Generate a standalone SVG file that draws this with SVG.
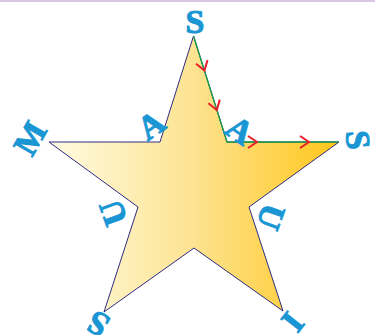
<svg xmlns="http://www.w3.org/2000/svg" width="375" height="335" viewBox="0 0 375 335">
<style>
.lbl{font-family:"Liberation Serif","Times New Roman",serif;font-weight:bold;font-size:34px;fill:#1A96D4;stroke:#1A96D4;stroke-width:1;text-anchor:middle;dominant-baseline:central}
.chev{fill:none;stroke:#E8202A;stroke-width:2;stroke-linecap:butt;stroke-linejoin:miter}
</style>
<defs>
<linearGradient id="g" gradientUnits="userSpaceOnUse" x1="49" y1="0" x2="339" y2="0">
<stop offset="0" stop-color="#FFFCE3"/>
<stop offset="0.5" stop-color="#FDE391"/>
<stop offset="1" stop-color="#FFC61A"/>
</linearGradient>
<path id="chv" d="M-9,-6 L0,0 L-9,6"/>
</defs>
<rect x="0" y="0" width="375" height="2" fill="#D9C6E6"/>
<g id="star">
<polygon points="193.5,36 227,142 339,142 249,207 283,311 194,248 104,312 138,207 49,142 160,142" fill="url(#g)" stroke="#2E2C83" stroke-width="1" stroke-linejoin="miter"/>
</g>
<g id="connectors">
<polyline points="193.5,36 227,142 339,142" fill="none" stroke="#1E9A4E" stroke-width="1.4"/>
<use href="#chv" class="chev" transform="translate(204.5,70.5) rotate(72.5)"/>
<use href="#chv" class="chev" transform="translate(216.8,110) rotate(72.5)"/>
<use href="#chv" class="chev" transform="translate(257,142)"/>
<use href="#chv" class="chev" transform="translate(309,142)"/>
</g>
<g id="letters">
<text class="lbl" transform="translate(195,21)">S</text>
<text class="lbl" transform="translate(151,125) rotate(-35)">A</text>
<text class="lbl" transform="translate(30,138) rotate(-60)">M</text>
<text class="lbl" transform="translate(113,213) rotate(-110)">U</text>
<text class="lbl" transform="translate(98,324) rotate(-150)">S</text>
<text class="lbl" transform="translate(293,322) rotate(128)">I</text>
<text class="lbl" transform="translate(271,217) rotate(110)">U</text>
<text class="lbl" transform="translate(358,140) rotate(85)">S</text>
<text class="lbl" transform="translate(240,130) rotate(35)">A</text>
</g>
</svg>
